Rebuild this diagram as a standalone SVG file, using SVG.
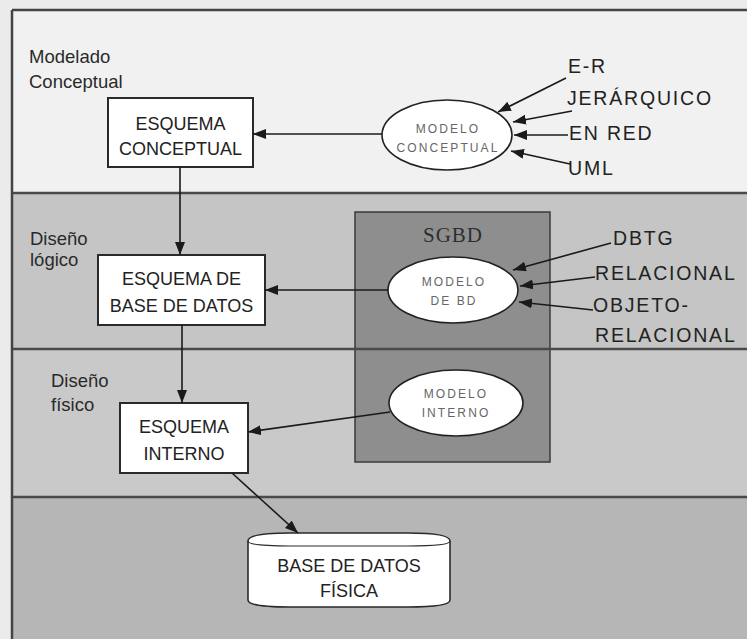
<svg xmlns="http://www.w3.org/2000/svg" width="747" height="639" viewBox="0 0 747 639">
<defs>
<marker id="ah" markerUnits="userSpaceOnUse" markerWidth="14" markerHeight="11" refX="13" refY="5" orient="auto">
<path d="M0,0 L13,5 L0,10 z" fill="#1a1a1a"/>
</marker>
<style>
.band{stroke:none}
.sep{stroke:#4a4a4a;stroke-width:2.5}
.box{fill:#fff;stroke:#2a2a2a;stroke-width:2}
.ell{fill:#fff;stroke:#222;stroke-width:1.6}
.bt{font-family:"Liberation Sans",Arial,sans-serif;font-size:18px;fill:#222;text-anchor:middle}
.et{font-family:"Liberation Sans",Arial,sans-serif;font-size:12px;letter-spacing:2.1px;fill:#666;text-anchor:middle}
.lt{font-family:"Liberation Sans",Arial,sans-serif;font-size:18.5px;fill:#2a2a2a}
.rt{font-family:"Liberation Sans",Arial,sans-serif;font-size:19.5px;letter-spacing:1.8px;fill:#222}
.cn line{stroke:#1a1a1a;stroke-width:1.6;marker-end:url(#ah)}
</style>
</defs>
<rect x="0" y="0" width="747" height="639" fill="#ebebeb"/>
<g id="bands">
<rect class="band" x="12" y="10" width="735" height="183" fill="#f1f1f1"/>
<rect class="band" x="12" y="193" width="735" height="156" fill="#c5c5c5"/>
<rect class="band" x="12" y="349" width="735" height="148" fill="#c9c9c9"/>
<rect class="band" x="12" y="497" width="735" height="142" fill="#b6b6b6"/>
<text class="lt" x="29" y="63">Modelado</text>
<text class="lt" x="29" y="88">Conceptual</text>
<text class="lt" x="30" y="245">Diseño</text>
<text class="lt" x="30" y="266">lógico</text>
<text class="lt" x="51" y="387">Diseño</text>
<text class="lt" x="51" y="411">físico</text>
</g>
<g id="sgbd">
<rect x="355" y="212" width="195" height="250" fill="#8e8e8e" stroke="#3a3a3a" stroke-width="1.5"/>
<text x="453" y="242" font-family="'Liberation Serif','Times New Roman',serif" font-size="21" letter-spacing="1" fill="#2e2e2e" text-anchor="middle">SGBD</text>
</g>
<g id="separators">
<line class="sep" x1="12" y1="193" x2="747" y2="193"/>
<line class="sep" x1="12" y1="349" x2="747" y2="349"/>
<line class="sep" x1="12" y1="497" x2="747" y2="497"/>
<line x1="12" y1="10" x2="747" y2="10" stroke="#444" stroke-width="2.5"/>
<line x1="12" y1="10" x2="12" y2="639" stroke="#444" stroke-width="2.5"/>
</g>
<g id="esquema-conceptual">
<rect class="box" x="108" y="98" width="145" height="69"/>
<text class="bt" x="180.5" y="130">ESQUEMA</text>
<text class="bt" x="180.5" y="155">CONCEPTUAL</text>
</g>
<g id="modelo-conceptual">
<ellipse class="ell" cx="447" cy="135" rx="65" ry="35"/>
<text class="et" x="448" y="133">MODELO</text>
<text class="et" x="448" y="152">CONCEPTUAL</text>
</g>
<g id="esquema-bd">
<rect class="box" x="98" y="255" width="167" height="70"/>
<text class="bt" x="181.5" y="285">ESQUEMA DE</text>
<text class="bt" x="181.5" y="312">BASE DE DATOS</text>
</g>
<g id="modelo-bd">
<ellipse class="ell" cx="453" cy="290" rx="65" ry="33"/>
<text class="et" x="454" y="286">MODELO</text>
<text class="et" x="454" y="305">DE BD</text>
</g>
<g id="esquema-interno">
<rect class="box" x="120" y="403" width="128" height="70"/>
<text class="bt" x="184" y="433">ESQUEMA</text>
<text class="bt" x="184" y="460">INTERNO</text>
</g>
<g id="modelo-interno">
<ellipse class="ell" cx="456" cy="403" rx="67" ry="33"/>
<text class="et" x="456" y="398">MODELO</text>
<text class="et" x="456" y="417">INTERNO</text>
</g>
<g id="bd-fisica">
<path d="M248,541 Q248,533 290,533 L408,533 Q450,533 450,541 L450,600 Q450,607 408,607 L290,607 Q248,607 248,600 Z" fill="#fff" stroke="#2a2a2a" stroke-width="1.6"/>
<path d="M248,541 Q248,546 290,546 L408,546 Q450,546 450,541" fill="none" stroke="#2a2a2a" stroke-width="1.2"/>
<text class="bt" x="349" y="572">BASE DE DATOS</text>
<text class="bt" x="349" y="597">FÍSICA</text>
</g>
<g id="labels">
<text class="rt" x="568" y="73">E-R</text>
<text class="rt" x="567" y="105">JERÁRQUICO</text>
<text class="rt" x="569" y="140">EN RED</text>
<text class="rt" x="568" y="175">UML</text>
<text class="rt" x="613" y="245" font-size="14" letter-spacing="2.5">DBTG</text>
<text class="rt" x="595" y="280">RELACIONAL</text>
<text class="rt" x="593" y="312">OBJETO-</text>
<text class="rt" x="595" y="342">RELACIONAL</text>
</g>
<g id="connectors" class="cn">
<line x1="382" y1="134" x2="253" y2="134"/>
<line x1="566" y1="78" x2="498" y2="112"/>
<line x1="572" y1="111" x2="513" y2="122"/>
<line x1="568" y1="135" x2="514" y2="135"/>
<line x1="570" y1="164" x2="511" y2="151"/>
<line x1="180" y1="167" x2="180" y2="255"/>
<line x1="388" y1="290" x2="265" y2="290"/>
<line x1="611" y1="243" x2="513" y2="270"/>
<line x1="595" y1="277" x2="520" y2="286"/>
<line x1="593" y1="310" x2="519" y2="302"/>
<line x1="182" y1="325" x2="182" y2="403"/>
<line x1="390" y1="412" x2="248" y2="432"/>
<line x1="232" y1="473" x2="298" y2="533"/>
</g>
</svg>
